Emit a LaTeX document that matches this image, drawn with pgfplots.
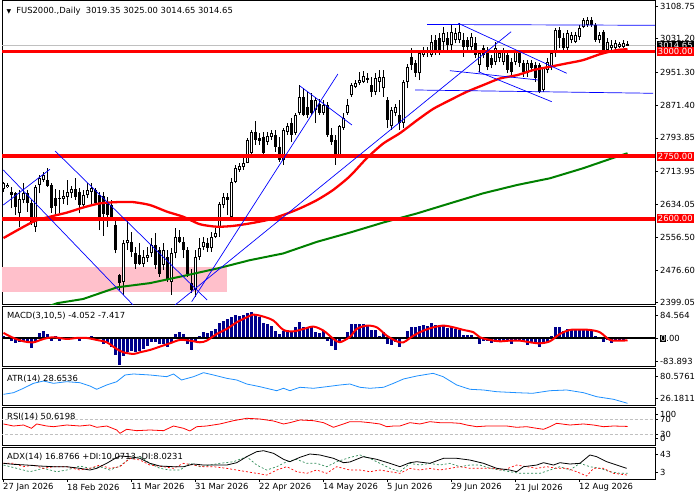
\documentclass[border=0pt]{standalone}
\usepackage{pgfplots}
\pgfplotsset{compat=1.18}
\usepackage{pgfplotstable}
\usepackage{fontspec}
\setmainfont{DejaVu Sans}
\definecolor{navyb}{RGB}{0,0,139}
\definecolor{dodger}{RGB}{30,144,255}
\definecolor{pinkz}{RGB}{255,192,203}
\definecolor{mgreen}{RGB}{0,128,0}
\definecolor{digreen}{RGB}{46,139,87}
\definecolor{bidgrey}{RGB}{192,192,192}
\newcommand{\fs}{\fontsize{8.4}{10}\selectfont}

\pgfplotstableread{
i o h l c
0 2671 2689 2665 2685
1 2675 2685 2673 2681
2 2665 2677 2625 2657
3 2661 2665 2609 2629
4 2613 2669 2581 2647
5 2645 2685 2637 2661
6 2661 2669 2617 2637
7 2637 2645 2585 2589
8 2581 2681 2569 2677
9 2681 2705 2661 2697
10 2693 2713 2689 2705
11 2693 2721 2677 2679
12 2681 2685 2613 2625
13 2650 2672 2610 2630
14 2650 2669 2613 2647
15 2647 2669 2636 2654
16 2653 2693 2633 2665
17 2661 2679 2650 2671
18 2671 2697 2645 2653
19 2665 2673 2613 2633
20 2633 2669 2625 2657
21 2657 2685 2649 2669
22 2665 2685 2632 2673
23 2669 2673 2633 2637
24 2657 2665 2573 2601
25 2655 2665 2560 2612
26 2637 2653 2581 2609
27 2633 2645 2595 2605
28 2585 2605 2517 2525
29 2465 2469 2430 2446
30 2449 2549 2418 2541
31 2541 2597 2525 2549
32 2545 2569 2509 2521
33 2517 2533 2481 2493
34 2513 2541 2489 2493
35 2493 2525 2485 2509
36 2505 2533 2497 2513
37 2517 2553 2509 2537
38 2537 2565 2481 2489
39 2525 2533 2461 2469
40 2489 2541 2477 2525
41 2509 2525 2449 2453
42 2449 2529 2418 2519
43 2517 2577 2505 2557
44 2556 2573 2541 2545
45 2545 2557 2505 2525
46 2525 2533 2461 2469
47 2446 2481 2422 2430
48 2430 2525 2413 2509
49 2509 2553 2501 2529
50 2533 2557 2525 2545
51 2543 2553 2521 2529
52 2529 2569 2521 2557
53 2557 2577 2553 2567
54 2581 2641 2557 2635
55 2633 2661 2625 2653
56 2653 2661 2609 2645
57 2605 2697 2597 2689
58 2689 2729 2685 2721
59 2717 2733 2713 2726
60 2725 2745 2717 2734
61 2734 2793 2733 2789
62 2757 2813 2753 2809
63 2809 2833 2777 2789
64 2793 2805 2777 2787
65 2797 2809 2753 2757
66 2785 2809 2777 2798
67 2797 2813 2789 2805
68 2801 2813 2761 2773
69 2773 2797 2737 2741
70 2741 2817 2729 2813
71 2809 2829 2801 2821
72 2829 2841 2785 2801
73 2805 2853 2801 2849
74 2853 2920 2849 2892
75 2892 2912 2845 2849
76 2868 2904 2841 2849
77 2884 2900 2849 2853
78 2860 2892 2829 2884
79 2876 2888 2849 2853
80 2853 2884 2849 2872
81 2872 2880 2797 2801
82 2801 2817 2777 2785
83 2789 2801 2729 2753
84 2753 2825 2749 2821
85 2817 2853 2813 2841
86 2853 2888 2849 2872
87 2896 2924 2892 2920
88 2916 2932 2912 2926
89 2924 2952 2920 2932
90 2928 2955 2924 2942
91 2938 2950 2924 2932
92 2920 2940 2892 2904
93 2904 2948 2896 2936
94 2928 2956 2904 2939
95 2912 2956 2892 2940
96 2884 2892 2817 2836
97 2821 2868 2813 2860
98 2853 2876 2845 2868
99 2849 2884 2813 2829
100 2829 2932 2817 2928
101 2928 2970 2912 2964
102 2988 3008 2956 2968
103 2972 2980 2940 2948
104 2948 3004 2932 2996
105 2992 3012 2988 3004
106 2996 3012 2988 3004
107 2992 3040 2988 3024
108 3028 3040 2992 3000
109 3032 3044 2992 3000
110 3024 3060 3000 3044
111 3032 3048 3004 3016
112 3016 3064 3000 3048
113 3028 3056 3020 3044
114 3028 3068 3020 3048
115 3028 3044 2988 3012
116 3028 3036 3004 3012
117 3012 3044 3004 3036
118 3020 3036 2984 2992
119 2968 3004 2952 2996
120 3008 3016 2984 2992
121 3004 3012 2956 2964
122 2984 2992 2960 2968
123 2976 3024 2968 3008
124 2984 3004 2976 2996
125 2976 3008 2968 3000
126 2992 3000 2948 2956
127 2976 2984 2944 2952
128 2976 3004 2968 3000
129 2996 3004 2964 2972
130 2972 2980 2940 2952
131 2948 2980 2940 2972
132 2972 2980 2952 2960
133 2968 2976 2928 2936
134 2968 2972 2900 2904
135 2908 2964 2904 2960
136 2956 2984 2948 2976
137 2964 3000 2956 2996
138 2996 3056 2988 3052
139 3052 3060 3008 3032
140 3032 3044 3004 3008
141 3008 3052 3004 3044
142 3028 3048 3020 3040
143 3024 3048 3020 3040
144 3036 3064 3028 3056
145 3060 3080 3056 3076
146 3064 3084 3060 3076
147 3076 3084 3060 3064
148 3064 3068 3024 3028
149 3028 3048 3020 3040
150 3048 3052 2996 3000
151 3004 3032 3000 3024
152 3008 3028 3000 3016
153 3008 3028 3004 3020
154 3012 3024 3008 3018
155 3012 3028 3008 3021
156 3019.35 3025 3014.65 3014.65
}\candles

\pgfplotstableread{
i m
0 9.7
1 6
2 -8.5
3 -18.2
4 -14.5
5 -8.5
6 -14.5
7 -35.1
8 -8.5
9 19.4
10 25.4
11 15.7
12 -10.9
13 9.7
14 -8.5
15 3.6
16 3.6
17 6
18 6
19 -8.5
20 6
21 3.6
22 9.7
23 -6
24 -2.4
25 -20.6
26 -14.5
27 -32.7
28 -59.3
29 -96.8
30 -62.9
31 -50.8
32 -44.8
33 -50.8
34 -44.8
35 -38.7
36 -26.6
37 -14.5
38 -14.5
39 -20.6
40 -20.6
41 -32.7
42 -18.2
43 15.7
44 21.8
45 15.7
46 -20.6
47 -42.4
48 -14.5
49 9.7
50 21.8
51 18.2
52 25.4
53 33.9
54 54.5
55 61.7
56 70.2
57 78.7
58 85.9
59 82.3
60 85.9
61 92
62 94.4
63 88.3
64 78.7
65 54.5
66 52
67 46
68 27.8
69 15.7
70 27.8
71 25.4
72 27.8
73 39.9
74 58.1
75 42.4
76 39.9
77 39.9
78 21.8
79 19.4
80 25.4
81 -8.5
82 -26.6
83 -42.4
84 -14.5
85 1.2
86 21.8
87 52
88 52
89 52
90 52
91 46
92 30.3
93 30.3
94 9.7
95 21.8
96 -20.6
97 -23
98 -14.5
99 -32.7
100 6
101 25.4
102 42.4
103 39.9
104 46
105 49.6
106 46
107 55.7
108 49.6
109 49.6
110 46
111 37.5
112 39.9
113 33.9
114 30.3
115 13.3
116 13.3
117 13.3
118 3.6
119 -20.6
120 -8.5
121 -10.9
122 -18.2
123 -14.5
124 -10.9
125 -8.5
126 -10.9
127 -20.6
128 -8.5
129 -8.5
130 -14.5
131 -23
132 -14.5
133 -18.2
134 -32.7
135 -20.6
136 -14.5
137 9.7
138 39.9
139 39.9
140 27.8
141 33.9
142 33.9
143 33.9
144 33.9
145 33.9
146 33.9
147 30.3
148 9.7
149 6
150 -14.5
151 -6
152 -18.2
153 -6
154 -8.5
155 -10.9
156 -4.05
}\macd

\pgfplotsset{
  panel/.style={
    scale only axis, width=653pt, anchor=north west,
    xmin=-0.375, xmax=162.875,
    axis line style={black, line width=0.9pt},
    xtick=\empty,
    ytick pos=right, yticklabel pos=right,
    tick align=outside, major tick length=3pt,
    tick style={black, line width=0.6pt},
    every tick label/.append style={font=\fs},
    yticklabel style={inner sep=2pt},
  },
}

\begin{document}
\begin{tikzpicture}
\path[use as bounding box] (0pt,0pt) rectangle (700pt,-500pt);

% ---------------- main price panel ----------------
\begin{axis}[panel, at={(2pt,-0.5pt)}, height=304pt,
  ymin=2394.86, ymax=3122.63,
  ytick={3108.75,3031.20,2951.30,2871.40,2793.85,2713.95,2634.05,2556.50,2476.60,2399.05},
  yticklabels={3108.75,3031.20,2951.30,2871.40,2793.85,2713.95,2634.05,2556.50,2476.60,2399.05}]
\addplot[fill=pinkz, draw=none] coordinates {(-0.5,2425) (55.8,2425) (55.8,2485) (-0.5,2485)} -- cycle;
\addplot[bidgrey, line width=0.8pt] coordinates {(-1,3014.65) (164,3014.65)};
% wicks
\addplot[black, quiver={u=0, v=\thisrow{h}-\thisrow{l}, every arrow/.append style={line width=1pt}}] table[x=i, y=l] {\candles};
% bodies
\addplot[black, quiver={u=0, v=\thisrow{c}-\thisrow{o}, every arrow/.append style={line width=3pt}}] table[x=i, y=o] {\candles};
\addplot[white, quiver={u=0, v={max(\thisrow{c}-\thisrow{o}-4.8,0)}, every arrow/.append style={line width=1pt}}] table[x=i, y expr=\thisrow{o}+2.4] {\candles};
% moving averages
\addplot[mgreen, line width=2pt] coordinates {(10,2386) (13.4,2398) (19.9,2408) (28.4,2436) (36.6,2446) (44.9,2463) (53.4,2481) (61.6,2501) (69.9,2517) (78.4,2545) (86.6,2567) (94.9,2591) (103.4,2613) (111.6,2637) (119.9,2661) (128.4,2681) (136.6,2697) (144.9,2721) (153.4,2749) (156,2757)};
\addplot[red, line width=2.3pt, smooth, tension=0.4] coordinates {(0,2554) (7.4,2593) (11.6,2605) (15.9,2615) (19.9,2627) (24.1,2637) (28.4,2640) (32.4,2640) (36.6,2633) (40.9,2617) (44.9,2605) (49.1,2587) (53.4,2581) (57.4,2583) (61.6,2589) (65.9,2597) (69.9,2609) (74.1,2625) (78.4,2645) (82.4,2669) (86.6,2702) (90.8,2745) (94.9,2780) (99.1,2805) (103.4,2836) (107.4,2863) (111.6,2884) (115.8,2904) (119.9,2920) (124.1,2936) (128.4,2944) (132.4,2956) (136.6,2964) (140.8,2972) (144.9,2980) (149.1,2994) (153.4,3004) (156,3006)};
% horizontal levels
\addplot[red, line width=3.5pt] coordinates {(-1,3000) (164,3000)};
\addplot[red, line width=3.5pt] coordinates {(-1,2750) (164,2750)};
\addplot[red, line width=3.5pt] coordinates {(-1,2600) (164,2600)};
% trend lines
\addplot[blue, line width=0.7pt] coordinates {(-0.05,2716.9) (32.4,2393.7)};
\addplot[blue, line width=0.7pt] coordinates {(12.9,2762.3) (50.9,2405.6)};
\addplot[blue, line width=0.7pt] coordinates {(-0.05,2633.1) (11.6,2718.5)};
\addplot[blue, line width=0.7pt] coordinates {(47.05,2401.6) (83.6,2946.7)};
\addplot[blue, line width=0.7pt] coordinates {(42.9,2393.7) (126.9,3047.9)};
\addplot[blue, line width=0.7pt] coordinates {(74.1,2918) (87.1,2824.6)};
\addplot[blue, line width=0.7pt] coordinates {(105.9,3065.2) (162.9,3063.3)};
\addplot[blue, line width=0.7pt] coordinates {(113.7,3068.0) (140.8,2948.4)};
\addplot[blue, line width=0.7pt] coordinates {(111.6,2954.6) (133.7,2932.3)};
\addplot[blue, line width=0.7pt] coordinates {(118.7,2952.2) (137.05,2880.4)};
\addplot[blue, line width=0.7pt] coordinates {(102.9,2908.4) (162.4,2900.5)};
\coordinate (bid) at (axis cs:162.875,3014.65);
\coordinate (l3000) at (axis cs:162.875,3000);
\coordinate (l2750) at (axis cs:162.875,2750);
\coordinate (l2600) at (axis cs:162.875,2600);
\end{axis}

% ---------------- MACD ----------------
\begin{axis}[panel, at={(2pt,-306.5pt)}, height=60pt,
  ymin=-102.4, ymax=115.4,
  ytick={84.564,0,-83.893},
  yticklabels={84.564,{\setlength{\fboxsep}{0.4pt}\colorbox{black}{\textcolor{white}{0}}.00},-83.893}]
\addplot[navyb, quiver={u=0, v=\thisrow{m}, every arrow/.append style={line width=2.6pt}}] table[x=i, y expr=0] {\macd};
\addplot[black, line width=2pt] coordinates {(-1,0) (164,0)};
\addplot[red, line width=2pt, smooth, tension=0.5] coordinates {(0,19.4) (2.5,1.2) (5,-10.9) (7.5,-14.5) (10,-2.4) (12.5,3.6) (15.8,-2.4) (18.3,1.2) (20.8,1.2) (23.3,-6) (25.8,-14.5) (28.3,-38.7) (30,-50.8) (32.5,-56.9) (34.1,-50.8) (36.6,-42.4) (39.1,-30.3) (41.6,-18.2) (44.1,-6) (46.6,-8.5) (49.1,-14.5) (50.8,-8.5) (53.3,15.7) (55.8,33.9) (58.3,58.1) (60.8,76.2) (62.5,85.9) (65,78.7) (67.5,64.1) (70,30.3) (72.5,25.4) (75,33.9) (77.5,42.4) (80,27.8) (82.5,-2.4) (84.1,-14.2) (86.6,5) (88.3,33.9) (90.8,46) (93.3,39.9) (95.8,9.7) (98.3,-10.9) (100,-14.5) (102.5,9.7) (105,27.8) (107.5,39.9) (110,46) (112.5,39.9) (115,30.3) (117.5,21.8) (119.1,3.6) (121.6,-6) (124.1,-10.9) (126.6,-8.5) (129.1,-8.5) (131.6,-14.5) (134.1,-18.2) (136.6,-10.9) (139.1,15.7) (141.6,30.3) (144.1,31.5) (146.6,30.3) (149.1,21.8) (151.6,-6) (154.1,-8.5) (156,-7.4)};
\end{axis}

% ---------------- ATR ----------------
\begin{axis}[panel, at={(2pt,-368.5pt)}, height=36.5pt,
  ymin=9.3, ymax=101.2,
  ytick={80.5761,26.1811}, yticklabels={80.5761,26.1811}]
\addplot[dodger, line width=0.8pt] coordinates {(0,36.2) (2.5,40.3) (5,51.4) (7.5,63.9) (10,69.7) (12.5,63.9) (15.8,68) (19.1,65.5) (21.6,57.2) (23.3,48.9) (25.8,59.7) (28.3,68) (30.4,84.9) (32.5,87.4) (36.6,84.9) (40.8,80.6) (42.5,87.4) (44.5,72.3) (47.5,80.6) (50,90.7) (52.5,84.9) (55.8,76.5) (58.3,72.3) (60.8,62.2) (64.1,55.4) (68.3,45.3) (70,51.4) (71.6,45.3) (74.1,53.9) (77.5,51.4) (80.8,55.4) (84.1,59.7) (86.6,62.2) (89.1,53.9) (91.6,51.4) (95,53.9) (97.5,63.9) (100,74.8) (103.3,82.3) (107.4,89.1) (109.9,80.6) (113.3,59.7) (116.6,48.9) (120,47.1) (123.3,42.8) (128.3,40.3) (132.3,38.8) (136.6,45.3) (140.8,47.1) (145,40.3) (148.3,30.2) (152.5,23.7) (156,13.6)};
\end{axis}

% ---------------- RSI ----------------
\begin{axis}[panel, at={(2pt,-407pt)}, height=38pt,
  ymin=2.1, ymax=101.3,
  ytick={82.3,70,30,19.6}, yticklabels={100,70,30,0}]
\addplot[bidgrey, line width=0.8pt, dash pattern=on 3pt off 2pt] coordinates {(-1,70) (164,70)};
\addplot[bidgrey, line width=0.8pt, dash pattern=on 3pt off 2pt] coordinates {(-1,30) (164,30)};
\addplot[red, line width=0.8pt] coordinates {(0,57.0) (2.5,51.7) (5,54.3) (7.0,45.7) (8.3,57.0) (10.8,51.7) (12.5,49.9) (15.8,54.3) (19.1,51.7) (21.6,54.3) (23.3,48.3) (25.8,51.7) (28.3,41.3) (29.1,32.6) (30.8,43.1) (33.3,39.5) (36.6,41.3) (40,39.5) (42.5,51.7) (45,45.7) (46.6,38.7) (48.3,49.9) (50.8,51.7) (54.1,57.0) (57.5,65.6) (60.8,71.8) (64.1,70) (67.5,64.8) (70,57.0) (71.6,60.4) (74.1,67.4) (77.5,65.6) (80,60.4) (82.5,48.3) (85,57.0) (86.6,63.0) (89.1,63.0) (91.6,60.4) (94.1,57.0) (95.8,49.9) (97.5,51.7) (99.1,51.7) (101.6,60.4) (104.1,57.0) (106.6,63.0) (109.1,60.4) (111.6,60.4) (114.1,58.7) (115.8,54.3) (118.3,49.9) (120.8,51.7) (123.3,51.7) (125.8,51.7) (128.3,48.3) (130.8,49.9) (133.3,45.7) (135,43.1) (136.6,49.9) (138.3,58.7) (141.6,54.3) (145,57.0) (147.5,54.3) (150,49.9) (152.5,51.7) (156,50.6)};
\end{axis}

% ---------------- ADX ----------------
\begin{axis}[panel, at={(2pt,-447pt)}, height=32pt,
  ymin=-11.8, ymax=59.2,
  ytick={43,3}, yticklabels={43,3},
  xtick={0,16,32,48,64,80,96,112,128,144},
  xticklabels={27 Jan 2026,18 Feb 2026,11 Mar 2026,31 Mar 2026,22 Apr 2026,14 May 2026,5 Jun 2026,29 Jun 2026,21 Jul 2026,12 Aug 2026},
  xtick pos=left, xticklabel pos=left,
  xticklabel style={anchor=north west, inner sep=0pt, xshift=-0.5pt, yshift=-1.5pt}]
\addplot[digreen, line width=0.7pt, dash pattern=on 2pt off 2pt] coordinates {(0,19.2) (3.3,11.9) (6.6,4.4) (10,11.9) (13.3,4.4) (15.8,8.1) (19.1,17.0) (21.6,11.9) (24.1,15.5) (26.6,8.1) (29.1,17.0) (31.6,34.1) (34.1,37.7) (36.6,23.0) (39.1,11.9) (41.6,8.1) (44.1,8.1) (46.6,23.0) (49.1,15.5) (51.6,19.2) (54.1,23.0) (57.5,26.6) (60.8,37.7) (63.3,19.2) (65.8,8.1) (68.3,15.5) (70.8,26.6) (73.3,31.9) (75.8,23.0) (78.3,23.0) (80.8,15.5) (83.3,26.6) (86.6,36) (89.1,41.5) (91.6,34.1) (94.1,23.0) (96.6,11.9) (99.1,4.4) (101.6,23.0) (104.1,19.2) (106.6,23.0) (109.1,19.2) (111.6,23.0) (114.1,15.5) (116.6,19.2) (119.1,19.2) (121.6,11.9) (124.1,8.1) (126.6,4.4) (129.1,0.8) (131.6,0.8) (134.1,0.8) (136.6,8.1) (139.1,15.5) (141.6,8.1) (144.1,23.0) (146.6,15.5) (149.1,11.9) (151.6,4.4) (154.1,0.8) (156,0.8)};
\addplot[red, line width=0.7pt, dash pattern=on 2pt off 2pt] coordinates {(0,23.0) (2.5,23.0) (5,15.5) (7.5,19.2) (10,11.9) (12.5,15.5) (15.8,15.5) (19.1,8.1) (21.6,11.9) (24.1,19.2) (26.6,11.9) (29.1,15.5) (31.6,34.1) (34.1,30.3) (36.6,19.2) (40,15.5) (42.5,11.9) (45,23.0) (47.5,19.2) (50,15.5) (52.5,15.5) (55.8,11.9) (58.3,8.1) (60.8,4.4) (63.3,0.8) (65.8,-3.0) (68.3,8.1) (70.8,15.5) (73.3,4.4) (75.8,0.8) (78.3,8.1) (80.8,0.8) (83.3,15.5) (86.6,8.1) (89.1,8.1) (91.6,4.4) (94.1,8.1) (96.6,4.4) (99.1,0.8) (101.6,11.9) (104.1,8.1) (106.6,11.9) (109.1,8.1) (111.6,11.9) (114.1,15.5) (116.6,11.9) (120,11.9) (122.5,11.9) (125,8.1) (128.3,19.2) (130.8,15.5) (133.3,11.9) (135.8,15.5) (138.3,11.9) (140.8,11.9) (143.3,4.4) (145.8,-5.2) (147.5,11.9) (150,11.9) (152.5,0.8) (156,-3.0)};
\addplot[black, line width=0.8pt] coordinates {(0,23.0) (2.5,20.8) (5.8,19.2) (9.1,17.0) (12.5,15.5) (15.8,15.5) (19.1,11.9) (21.6,8.1) (23.3,11.9) (25.8,23.0) (27.5,31.9) (29.1,39.2) (31.6,37.7) (34.1,34.1) (36.6,23.0) (39.1,17.0) (42.5,15.5) (45,15.5) (47.5,21.5) (50,19.2) (52.5,19.2) (55.8,19.2) (58.3,24.4) (60.8,37.7) (63.3,48.8) (65,51.0) (67.5,45.2) (70,31.9) (71.6,26.6) (74.1,36.3) (76.6,43.7) (79.1,41.5) (82.5,34.1) (85,24.4) (86.6,26) (89.9,37.7) (93.3,31.9) (96.6,23.0) (99.1,15.5) (101.6,24.4) (103.3,26.6) (106.6,23.0) (110,34.1) (113.3,34.1) (116.6,30.3) (120,23.0) (123.3,11.9) (126.6,8.1) (128.3,4.4) (130,15.5) (133.3,19.2) (135,24.4) (137.5,19.2) (139.1,24.4) (141.6,21.5) (144.1,23.0) (146.6,41.5) (148.3,37.7) (150.8,26.6) (153.3,19.2) (155.8,11.9)};
\end{axis}

% ---------------- texts and price boxes ----------------
\node[anchor=west, font=\fs, inner sep=0pt] at (6.5pt,-11pt) {{\fontsize{6}{6}\selectfont ▼}\hspace{5pt}FUS2000.,Daily\ \ 3019.35 3025.00 3014.65 3014.65};
\node[anchor=west, font=\fs, inner sep=0pt, fill=white] at (7pt,-316pt) {MACD(3,10,5) -4.052 -7.417};
\node[anchor=west, font=\fs, inner sep=0pt] at (7pt,-379pt) {ATR(14) 28.6536};
\node[anchor=west, font=\fs, inner sep=0pt] at (7pt,-416.5pt) {RSI(14) 50.6198};
\node[anchor=west, font=\fs, inner sep=0pt] at (7pt,-456.5pt) {ADX(14) 16.8766 +DI:10.0713 -DI:8.0231};
\node[anchor=west, font=\fs, fill=black, text=white, inner sep=1.2pt, xshift=1.5pt] at (bid) {3014.65};
\node[anchor=west, font=\fs, fill=red, text=white, inner sep=1.2pt, xshift=1.5pt] at (l3000) {3000.00};
\node[anchor=west, font=\fs, fill=red, text=white, inner sep=1.2pt, xshift=1.5pt] at (l2750) {2750.00};
\node[anchor=west, font=\fs, fill=red, text=white, inner sep=1.2pt, xshift=1.5pt] at (l2600) {2600.00};
\end{tikzpicture}
\end{document}
